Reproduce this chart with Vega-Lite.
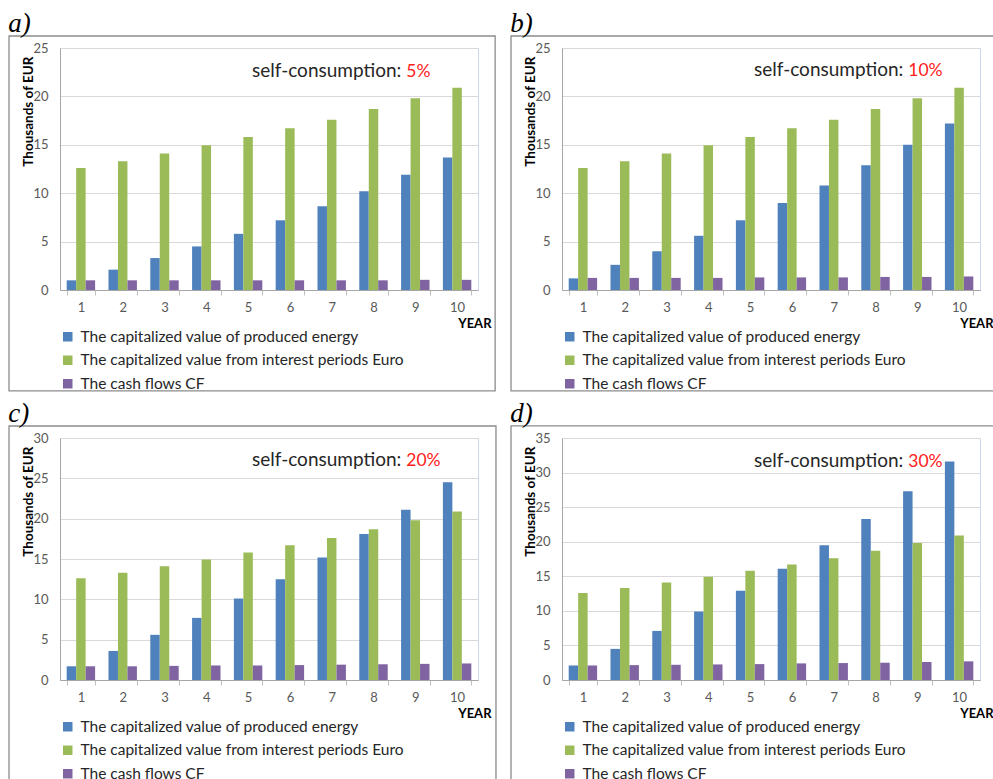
{
  "$schema": "https://vega.github.io/schema/vega-lite/v6.json",
  "padding": {"left": 7, "top": 9, "right": 0, "bottom": 0},
  "background": "white",
  "datasets": {
    "a": [
      {"year": 1, "energy": 1.0, "interest": 12.6, "cf": 1.0},
      {"year": 2, "energy": 2.1, "interest": 13.3, "cf": 1.0},
      {"year": 3, "energy": 3.3, "interest": 14.1, "cf": 1.0},
      {"year": 4, "energy": 4.5, "interest": 14.95, "cf": 1.0},
      {"year": 5, "energy": 5.8, "interest": 15.8, "cf": 1.0},
      {"year": 6, "energy": 7.2, "interest": 16.7, "cf": 1.0},
      {"year": 7, "energy": 8.65, "interest": 17.6, "cf": 1.0},
      {"year": 8, "energy": 10.2, "interest": 18.7, "cf": 1.0},
      {"year": 9, "energy": 11.9, "interest": 19.8, "cf": 1.05},
      {"year": 10, "energy": 13.7, "interest": 20.9, "cf": 1.05}
    ],
    "b": [
      {"year": 1, "energy": 1.2, "interest": 12.6, "cf": 1.25},
      {"year": 2, "energy": 2.6, "interest": 13.3, "cf": 1.25},
      {"year": 3, "energy": 4.0, "interest": 14.1, "cf": 1.25},
      {"year": 4, "energy": 5.6, "interest": 14.95, "cf": 1.25},
      {"year": 5, "energy": 7.2, "interest": 15.8, "cf": 1.3},
      {"year": 6, "energy": 9.0, "interest": 16.7, "cf": 1.3},
      {"year": 7, "energy": 10.8, "interest": 17.6, "cf": 1.3},
      {"year": 8, "energy": 12.9, "interest": 18.7, "cf": 1.35},
      {"year": 9, "energy": 15.0, "interest": 19.8, "cf": 1.35},
      {"year": 10, "energy": 17.2, "interest": 20.9, "cf": 1.4}
    ],
    "c": [
      {"year": 1, "energy": 1.7, "interest": 12.6, "cf": 1.7},
      {"year": 2, "energy": 3.6, "interest": 13.3, "cf": 1.7},
      {"year": 3, "energy": 5.6, "interest": 14.1, "cf": 1.75},
      {"year": 4, "energy": 7.7, "interest": 14.95, "cf": 1.8},
      {"year": 5, "energy": 10.1, "interest": 15.8, "cf": 1.8},
      {"year": 6, "energy": 12.5, "interest": 16.7, "cf": 1.85},
      {"year": 7, "energy": 15.2, "interest": 17.6, "cf": 1.9},
      {"year": 8, "energy": 18.1, "interest": 18.7, "cf": 1.95},
      {"year": 9, "energy": 21.1, "interest": 19.8, "cf": 2.0},
      {"year": 10, "energy": 24.5, "interest": 20.9, "cf": 2.05}
    ],
    "d": [
      {"year": 1, "energy": 2.1, "interest": 12.6, "cf": 2.1},
      {"year": 2, "energy": 4.5, "interest": 13.3, "cf": 2.15},
      {"year": 3, "energy": 7.1, "interest": 14.1, "cf": 2.2},
      {"year": 4, "energy": 9.9, "interest": 14.95, "cf": 2.25},
      {"year": 5, "energy": 12.9, "interest": 15.8, "cf": 2.3},
      {"year": 6, "energy": 16.1, "interest": 16.7, "cf": 2.4},
      {"year": 7, "energy": 19.5, "interest": 17.6, "cf": 2.45},
      {"year": 8, "energy": 23.3, "interest": 18.7, "cf": 2.5},
      {"year": 9, "energy": 27.3, "interest": 19.8, "cf": 2.6},
      {"year": 10, "energy": 31.6, "interest": 20.9, "cf": 2.7}
    ]
  },
  "columns": 2,
  "spacing": {"row": 5, "column": 11},
  "resolve": {"scale": {"x": "independent", "y": "independent"}, "legend": {"color": "independent"}, "axis": {"x": "independent", "y": "independent"}},
  "concat": [
    {
      "title": {"text": "a)"},
      "width": 418, "height": 242,
      "layer": [
        {
          "data": {"values": [{}]},
          "mark": {"type": "rect", "filled": false, "stroke": "#8c8c8c", "strokeWidth": 1.3, "clip": false},
          "encoding": {
            "x": {"datum": -0.122, "type": "quantitative", "scale": {"domain": [0, 1], "nice": false, "zero": false}, "axis": null},
            "x2": {"datum": 1.041},
            "y": {"datum": -10.43, "type": "quantitative", "scale": {"domain": [0, 25], "nice": false}, "axis": {"title": "Thousands of  EUR", "values": [0, 5, 10, 15, 20, 25]}},
            "y2": {"datum": 26.24}
          }
        },
        {
          "layer": [
            {
              "data": {"name": "a"},
              "transform": [{"fold": ["energy", "interest", "cf"], "as": ["series", "value"]}],
              "mark": {"type": "bar"},
              "encoding": {
                "x": {"field": "year", "type": "ordinal", "scale": {"paddingInner": 0.32, "paddingOuter": 0.16}, "axis": {"title": "YEAR"}},
                "xOffset": {"field": "series", "type": "nominal", "scale": {"domain": ["energy", "interest", "cf"]}},
                "y": {"field": "value", "type": "quantitative", "scale": {"domain": [0, 25], "nice": false}, "axis": {"title": "Thousands of  EUR", "values": [0, 5, 10, 15, 20, 25]}},
                "color": {"field": "series", "type": "nominal", "scale": {"domain": ["energy", "interest", "cf"], "range": ["#4f81bd", "#9bbb59", "#8064a2"]}, "legend": {"labelExpr": "datum.label == 'energy' ? 'The capitalized value of produced energy' : datum.label == 'interest' ? 'The capitalized value from interest periods Euro' : 'The cash flows CF'"}}
              }
            },
            {
              "data": {"values": [{}]},
              "mark": {"type": "text", "align": "right", "baseline": "alphabetic", "dx": -14, "fontSize": 19, "color": "#262626"},
              "encoding": {"x": {"datum": 9, "type": "ordinal", "axis": {"title": "YEAR"}}, "y": {"datum": 22.0, "type": "quantitative", "scale": {"domain": [0, 25], "nice": false}, "axis": {"title": "Thousands of  EUR", "values": [0, 5, 10, 15, 20, 25]}}, "text": {"value": "self-consumption:"}}
            },
            {
              "data": {"values": [{}]},
              "mark": {"type": "text", "align": "left", "baseline": "alphabetic", "dx": -9, "fontSize": 17.5, "color": "#ff2020"},
              "encoding": {"x": {"datum": 9, "type": "ordinal", "axis": {"title": "YEAR"}}, "y": {"datum": 22.0, "type": "quantitative", "scale": {"domain": [0, 25], "nice": false}, "axis": {"title": "Thousands of  EUR", "values": [0, 5, 10, 15, 20, 25]}}, "text": {"value": "5%"}}
            }
          ]
        }
      ],
      "resolve": {"scale": {"x": "independent"}}
    },
    {
      "title": {"text": "b)"},
      "width": 418, "height": 242,
      "layer": [
        {
          "data": {"values": [{}]},
          "mark": {"type": "rect", "filled": false, "stroke": "#8c8c8c", "strokeWidth": 1.3, "clip": false},
          "encoding": {
            "x": {"datum": -0.122, "type": "quantitative", "scale": {"domain": [0, 1], "nice": false, "zero": false}, "axis": null},
            "x2": {"datum": 1.04},
            "y": {"datum": -10.43, "type": "quantitative", "scale": {"domain": [0, 25], "nice": false}, "axis": {"title": "Thousands of  EUR", "values": [0, 5, 10, 15, 20, 25]}},
            "y2": {"datum": 26.24}
          }
        },
        {
          "layer": [
            {
              "data": {"name": "b"},
              "transform": [{"fold": ["energy", "interest", "cf"], "as": ["series", "value"]}],
              "mark": {"type": "bar"},
              "encoding": {
                "x": {"field": "year", "type": "ordinal", "scale": {"paddingInner": 0.32, "paddingOuter": 0.16}, "axis": {"title": "YEAR"}},
                "xOffset": {"field": "series", "type": "nominal", "scale": {"domain": ["energy", "interest", "cf"]}},
                "y": {"field": "value", "type": "quantitative", "scale": {"domain": [0, 25], "nice": false}, "axis": {"title": "Thousands of  EUR", "values": [0, 5, 10, 15, 20, 25]}},
                "color": {"field": "series", "type": "nominal", "scale": {"domain": ["energy", "interest", "cf"], "range": ["#4f81bd", "#9bbb59", "#8064a2"]}, "legend": {"labelExpr": "datum.label == 'energy' ? 'The capitalized value of produced energy' : datum.label == 'interest' ? 'The capitalized value from interest periods Euro' : 'The cash flows CF'"}}
              }
            },
            {
              "data": {"values": [{}]},
              "mark": {"type": "text", "align": "right", "baseline": "alphabetic", "dx": -14, "fontSize": 19, "color": "#262626"},
              "encoding": {"x": {"datum": 9, "type": "ordinal", "axis": {"title": "YEAR"}}, "y": {"datum": 22.1, "type": "quantitative", "scale": {"domain": [0, 25], "nice": false}, "axis": {"title": "Thousands of  EUR", "values": [0, 5, 10, 15, 20, 25]}}, "text": {"value": "self-consumption:"}}
            },
            {
              "data": {"values": [{}]},
              "mark": {"type": "text", "align": "left", "baseline": "alphabetic", "dx": -9, "fontSize": 17.5, "color": "#ff2020"},
              "encoding": {"x": {"datum": 9, "type": "ordinal", "axis": {"title": "YEAR"}}, "y": {"datum": 22.1, "type": "quantitative", "scale": {"domain": [0, 25], "nice": false}, "axis": {"title": "Thousands of  EUR", "values": [0, 5, 10, 15, 20, 25]}}, "text": {"value": "10%"}}
            }
          ]
        }
      ],
      "resolve": {"scale": {"x": "independent"}}
    },
    {
      "title": {"text": "c)"},
      "width": 418, "height": 242,
      "layer": [
        {
          "data": {"values": [{}]},
          "mark": {"type": "rect", "filled": false, "stroke": "#8c8c8c", "strokeWidth": 1.3, "clip": false},
          "encoding": {
            "x": {"datum": -0.122, "type": "quantitative", "scale": {"domain": [0, 1], "nice": false, "zero": false}, "axis": null},
            "x2": {"datum": 1.043},
            "y": {"datum": -13.0, "type": "quantitative", "scale": {"domain": [0, 30], "nice": false}, "axis": {"title": "Thousands of  EUR", "values": [0, 5, 10, 15, 20, 25, 30]}},
            "y2": {"datum": 31.49}
          }
        },
        {
          "layer": [
            {
              "data": {"name": "c"},
              "transform": [{"fold": ["energy", "interest", "cf"], "as": ["series", "value"]}],
              "mark": {"type": "bar"},
              "encoding": {
                "x": {"field": "year", "type": "ordinal", "scale": {"paddingInner": 0.32, "paddingOuter": 0.16}, "axis": {"title": "YEAR"}},
                "xOffset": {"field": "series", "type": "nominal", "scale": {"domain": ["energy", "interest", "cf"]}},
                "y": {"field": "value", "type": "quantitative", "scale": {"domain": [0, 30], "nice": false}, "axis": {"title": "Thousands of  EUR", "values": [0, 5, 10, 15, 20, 25, 30]}},
                "color": {"field": "series", "type": "nominal", "scale": {"domain": ["energy", "interest", "cf"], "range": ["#4f81bd", "#9bbb59", "#8064a2"]}, "legend": {"labelExpr": "datum.label == 'energy' ? 'The capitalized value of produced energy' : datum.label == 'interest' ? 'The capitalized value from interest periods Euro' : 'The cash flows CF'"}}
              }
            },
            {
              "data": {"values": [{}]},
              "mark": {"type": "text", "align": "right", "baseline": "alphabetic", "dx": -14, "fontSize": 19, "color": "#262626"},
              "encoding": {"x": {"datum": 9, "type": "ordinal", "axis": {"title": "YEAR"}}, "y": {"datum": 26.5, "type": "quantitative", "scale": {"domain": [0, 30], "nice": false}, "axis": {"title": "Thousands of  EUR", "values": [0, 5, 10, 15, 20, 25, 30]}}, "text": {"value": "self-consumption:"}}
            },
            {
              "data": {"values": [{}]},
              "mark": {"type": "text", "align": "left", "baseline": "alphabetic", "dx": -9, "fontSize": 17.5, "color": "#ff2020"},
              "encoding": {"x": {"datum": 9, "type": "ordinal", "axis": {"title": "YEAR"}}, "y": {"datum": 26.5, "type": "quantitative", "scale": {"domain": [0, 30], "nice": false}, "axis": {"title": "Thousands of  EUR", "values": [0, 5, 10, 15, 20, 25, 30]}}, "text": {"value": "20%"}}
            }
          ]
        }
      ],
      "resolve": {"scale": {"x": "independent"}}
    },
    {
      "title": {"text": "d)"},
      "width": 418, "height": 242,
      "layer": [
        {
          "data": {"values": [{}]},
          "mark": {"type": "rect", "filled": false, "stroke": "#8c8c8c", "strokeWidth": 1.3, "clip": false},
          "encoding": {
            "x": {"datum": -0.122, "type": "quantitative", "scale": {"domain": [0, 1], "nice": false, "zero": false}, "axis": null},
            "x2": {"datum": 1.04},
            "y": {"datum": -15.2, "type": "quantitative", "scale": {"domain": [0, 35], "nice": false}, "axis": {"title": "Thousands of  EUR", "values": [0, 5, 10, 15, 20, 25, 30, 35]}},
            "y2": {"datum": 36.74}
          }
        },
        {
          "layer": [
            {
              "data": {"name": "d"},
              "transform": [{"fold": ["energy", "interest", "cf"], "as": ["series", "value"]}],
              "mark": {"type": "bar"},
              "encoding": {
                "x": {"field": "year", "type": "ordinal", "scale": {"paddingInner": 0.32, "paddingOuter": 0.16}, "axis": {"title": "YEAR"}},
                "xOffset": {"field": "series", "type": "nominal", "scale": {"domain": ["energy", "interest", "cf"]}},
                "y": {"field": "value", "type": "quantitative", "scale": {"domain": [0, 35], "nice": false}, "axis": {"title": "Thousands of  EUR", "values": [0, 5, 10, 15, 20, 25, 30, 35]}},
                "color": {"field": "series", "type": "nominal", "scale": {"domain": ["energy", "interest", "cf"], "range": ["#4f81bd", "#9bbb59", "#8064a2"]}, "legend": {"labelExpr": "datum.label == 'energy' ? 'The capitalized value of produced energy' : datum.label == 'interest' ? 'The capitalized value from interest periods Euro' : 'The cash flows CF'"}}
              }
            },
            {
              "data": {"values": [{}]},
              "mark": {"type": "text", "align": "right", "baseline": "alphabetic", "dx": -14, "fontSize": 19, "color": "#262626"},
              "encoding": {"x": {"datum": 9, "type": "ordinal", "axis": {"title": "YEAR"}}, "y": {"datum": 30.8, "type": "quantitative", "scale": {"domain": [0, 35], "nice": false}, "axis": {"title": "Thousands of  EUR", "values": [0, 5, 10, 15, 20, 25, 30, 35]}}, "text": {"value": "self-consumption:"}}
            },
            {
              "data": {"values": [{}]},
              "mark": {"type": "text", "align": "left", "baseline": "alphabetic", "dx": -9, "fontSize": 17.5, "color": "#ff2020"},
              "encoding": {"x": {"datum": 9, "type": "ordinal", "axis": {"title": "YEAR"}}, "y": {"datum": 30.8, "type": "quantitative", "scale": {"domain": [0, 35], "nice": false}, "axis": {"title": "Thousands of  EUR", "values": [0, 5, 10, 15, 20, 25, 30, 35]}}, "text": {"value": "30%"}}
            }
          ]
        }
      ],
      "resolve": {"scale": {"x": "independent"}}
    }
  ],
  "config": {
    "font": "Lato",
    "view": {"stroke": "#c6d9f0", "strokeWidth": 1},
    "title": {"anchor": "start", "frame": "bounds", "font": "Liberation Serif", "fontStyle": "italic", "fontWeight": "normal", "fontSize": 27, "color": "#000000", "offset": -3},
    "bar": {"stroke": null},
    "axisX": {"labelAngle": 0, "labelFontSize": 13, "labelColor": "#595959", "labelPadding": 6, "ticks": true, "tickBand": "extent", "tickSize": 5, "tickColor": "#bfbfbf", "domainColor": "#a6a6a6", "grid": false, "titleFontSize": 13, "titleFontWeight": "bold", "titleColor": "#000000", "titleAlign": "right", "titleBaseline": "alphabetic", "titleX": 431, "titleY": 37},
    "axisY": {"labelFontSize": 13, "labelColor": "#595959", "labelPadding": 12, "labelOverlap": false, "ticks": false, "domainColor": "#a6a6a6", "grid": true, "gridColor": "#d9d9d9", "titleFontSize": 13.5, "titleFontWeight": "bold", "titleColor": "#000000", "titleAngle": -90, "titleAlign": "right", "titleBaseline": "middle", "titleX": -32, "titleY": 8},
    "legend": {"orient": "none", "legendX": 0, "legendY": 281, "direction": "vertical", "title": null, "symbolType": "square", "symbolSize": 90, "symbolStrokeWidth": 0, "labelFontSize": 15.5, "labelColor": "#262626", "labelOffset": 5, "rowPadding": 6.5, "labelLimit": 400, "padding": 0}
  }
}
